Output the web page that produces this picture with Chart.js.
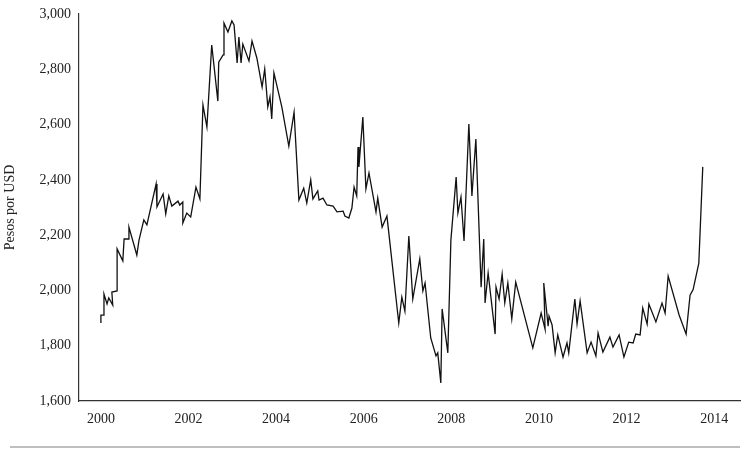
<!DOCTYPE html>
<html><head><meta charset="utf-8">
<script src="https://cdn.jsdelivr.net/npm/chart.js@4/dist/chart.umd.min.js"></script>
<style>body{margin:0;background:#fff}#w{width:750px;height:453px;position:relative}</style>
</head><body><div id="w"><canvas id="c"></canvas></div>
<script>
const years=[2000.00,2000.00,2000.07,2000.07,2000.14,2000.18,2000.27,2000.25,2000.37,2000.37,2000.50,2000.53,2000.62,2000.64,2000.82,2000.87,2000.98,2001.05,2001.26,2001.28,2001.42,2001.48,2001.55,2001.62,2001.76,2001.80,2001.87,2001.87,2001.96,2002.05,2002.17,2002.26,2002.33,2002.42,2002.53,2002.67,2002.69,2002.79,2002.81,2002.90,2002.99,2003.04,2003.11,2003.15,2003.20,2003.24,2003.38,2003.45,2003.56,2003.68,2003.74,2003.81,2003.86,2003.90,2003.95,2004.13,2004.29,2004.41,2004.52,2004.63,2004.70,2004.79,2004.84,2004.95,2004.98,2005.07,2005.16,2005.30,2005.39,2005.53,2005.57,2005.66,2005.73,2005.78,2005.84,2005.87,2005.89,2005.98,2006.05,2006.12,2006.28,2006.32,2006.42,2006.53,2006.80,2006.87,2006.94,2007.03,2007.12,2007.28,2007.35,2007.40,2007.53,2007.65,2007.69,2007.76,2007.79,2007.92,2007.99,2008.11,2008.15,2008.22,2008.29,2008.40,2008.47,2008.56,2008.68,2008.74,2008.77,2008.84,2009.00,2009.02,2009.09,2009.16,2009.22,2009.29,2009.38,2009.47,2009.86,2010.05,2010.14,2010.11,2010.21,2010.23,2010.30,2010.37,2010.43,2010.55,2010.64,2010.68,2010.82,2010.87,2010.94,2011.10,2011.19,2011.30,2011.35,2011.46,2011.62,2011.69,2011.83,2011.94,2012.05,2012.15,2012.21,2012.31,2012.37,2012.47,2012.51,2012.67,2012.81,2012.88,2012.95,2013.20,2013.36,2013.45,2013.52,2013.65,2013.74];
const pesos=[1882,1911,1911,1987,1951,1973,1947,1994,1998,2150,2107,2186,2186,2229,2128,2182,2255,2237,2385,2302,2349,2277,2342,2305,2323,2309,2320,2244,2280,2266,2374,2331,2671,2591,2888,2685,2826,2852,2967,2935,2975,2960,2823,2917,2823,2891,2830,2902,2841,2736,2801,2664,2700,2620,2787,2664,2522,2645,2327,2370,2316,2400,2331,2360,2327,2334,2309,2305,2284,2287,2269,2262,2298,2374,2342,2519,2447,2627,2367,2425,2284,2334,2229,2269,1882,1976,1925,2197,1969,2114,1998,2027,1828,1763,1774,1665,1933,1774,2182,2410,2280,2338,2179,2602,2342,2548,2012,2186,1955,2063,1842,2012,1969,2059,1955,2027,1897,2030,1792,1918,1860,2027,1871,1907,1875,1774,1839,1759,1810,1774,1969,1878,1962,1774,1813,1763,1846,1777,1831,1795,1839,1759,1813,1810,1842,1839,1936,1878,1951,1886,1954,1918,2052,1911,1842,1983,2003,2099,2447];
const xTicks=[2000,2002,2004,2006,2008,2010,2012,2014];
const yTitle='Pesos por USD';
const pts=years.map((x,i)=>({x,y:pesos[i]}));
const font={family:'"Liberation Serif", serif',size:14};
new Chart(document.getElementById('c'),{
type:'line',
data:{datasets:[{data:pts,borderColor:'#111',borderWidth:1.3,pointRadius:0,tension:0,fill:false}]},
options:{responsive:true,maintainAspectRatio:false,animation:false,
layout:{padding:{top:14,right:10,left:0,bottom:0}},
plugins:{legend:{display:false},tooltip:{enabled:false}},
scales:{
x:{type:'linear',min:1999.5,max:2014.59,afterBuildTicks:s=>{s.ticks=xTicks.map(v=>({value:v}));},
 grid:{display:false,drawTicks:true,tickLength:6,color:'#333'},border:{color:'#333',width:1.2},
 ticks:{color:'#222',font,maxRotation:0,callback:v=>String(v),padding:4},
 afterFit:s=>{s.height=52;}},
y:{min:1600,max:3000,ticks:{stepSize:200,color:'#222',font,padding:3},
 grid:{display:false,tickLength:5},border:{color:'#333',width:1.2},
 title:{display:true,text:yTitle,color:'#222',font,padding:2},
 afterFit:s=>{s.width=79;}}
}},
plugins:[{id:'rule',afterDraw(c){const g=c.ctx;g.save();g.strokeStyle='#aaa';g.lineWidth=1.5;g.beginPath();g.moveTo(10,447);g.lineTo(740,447);g.stroke();g.restore();}}]
});
</script></body></html>
